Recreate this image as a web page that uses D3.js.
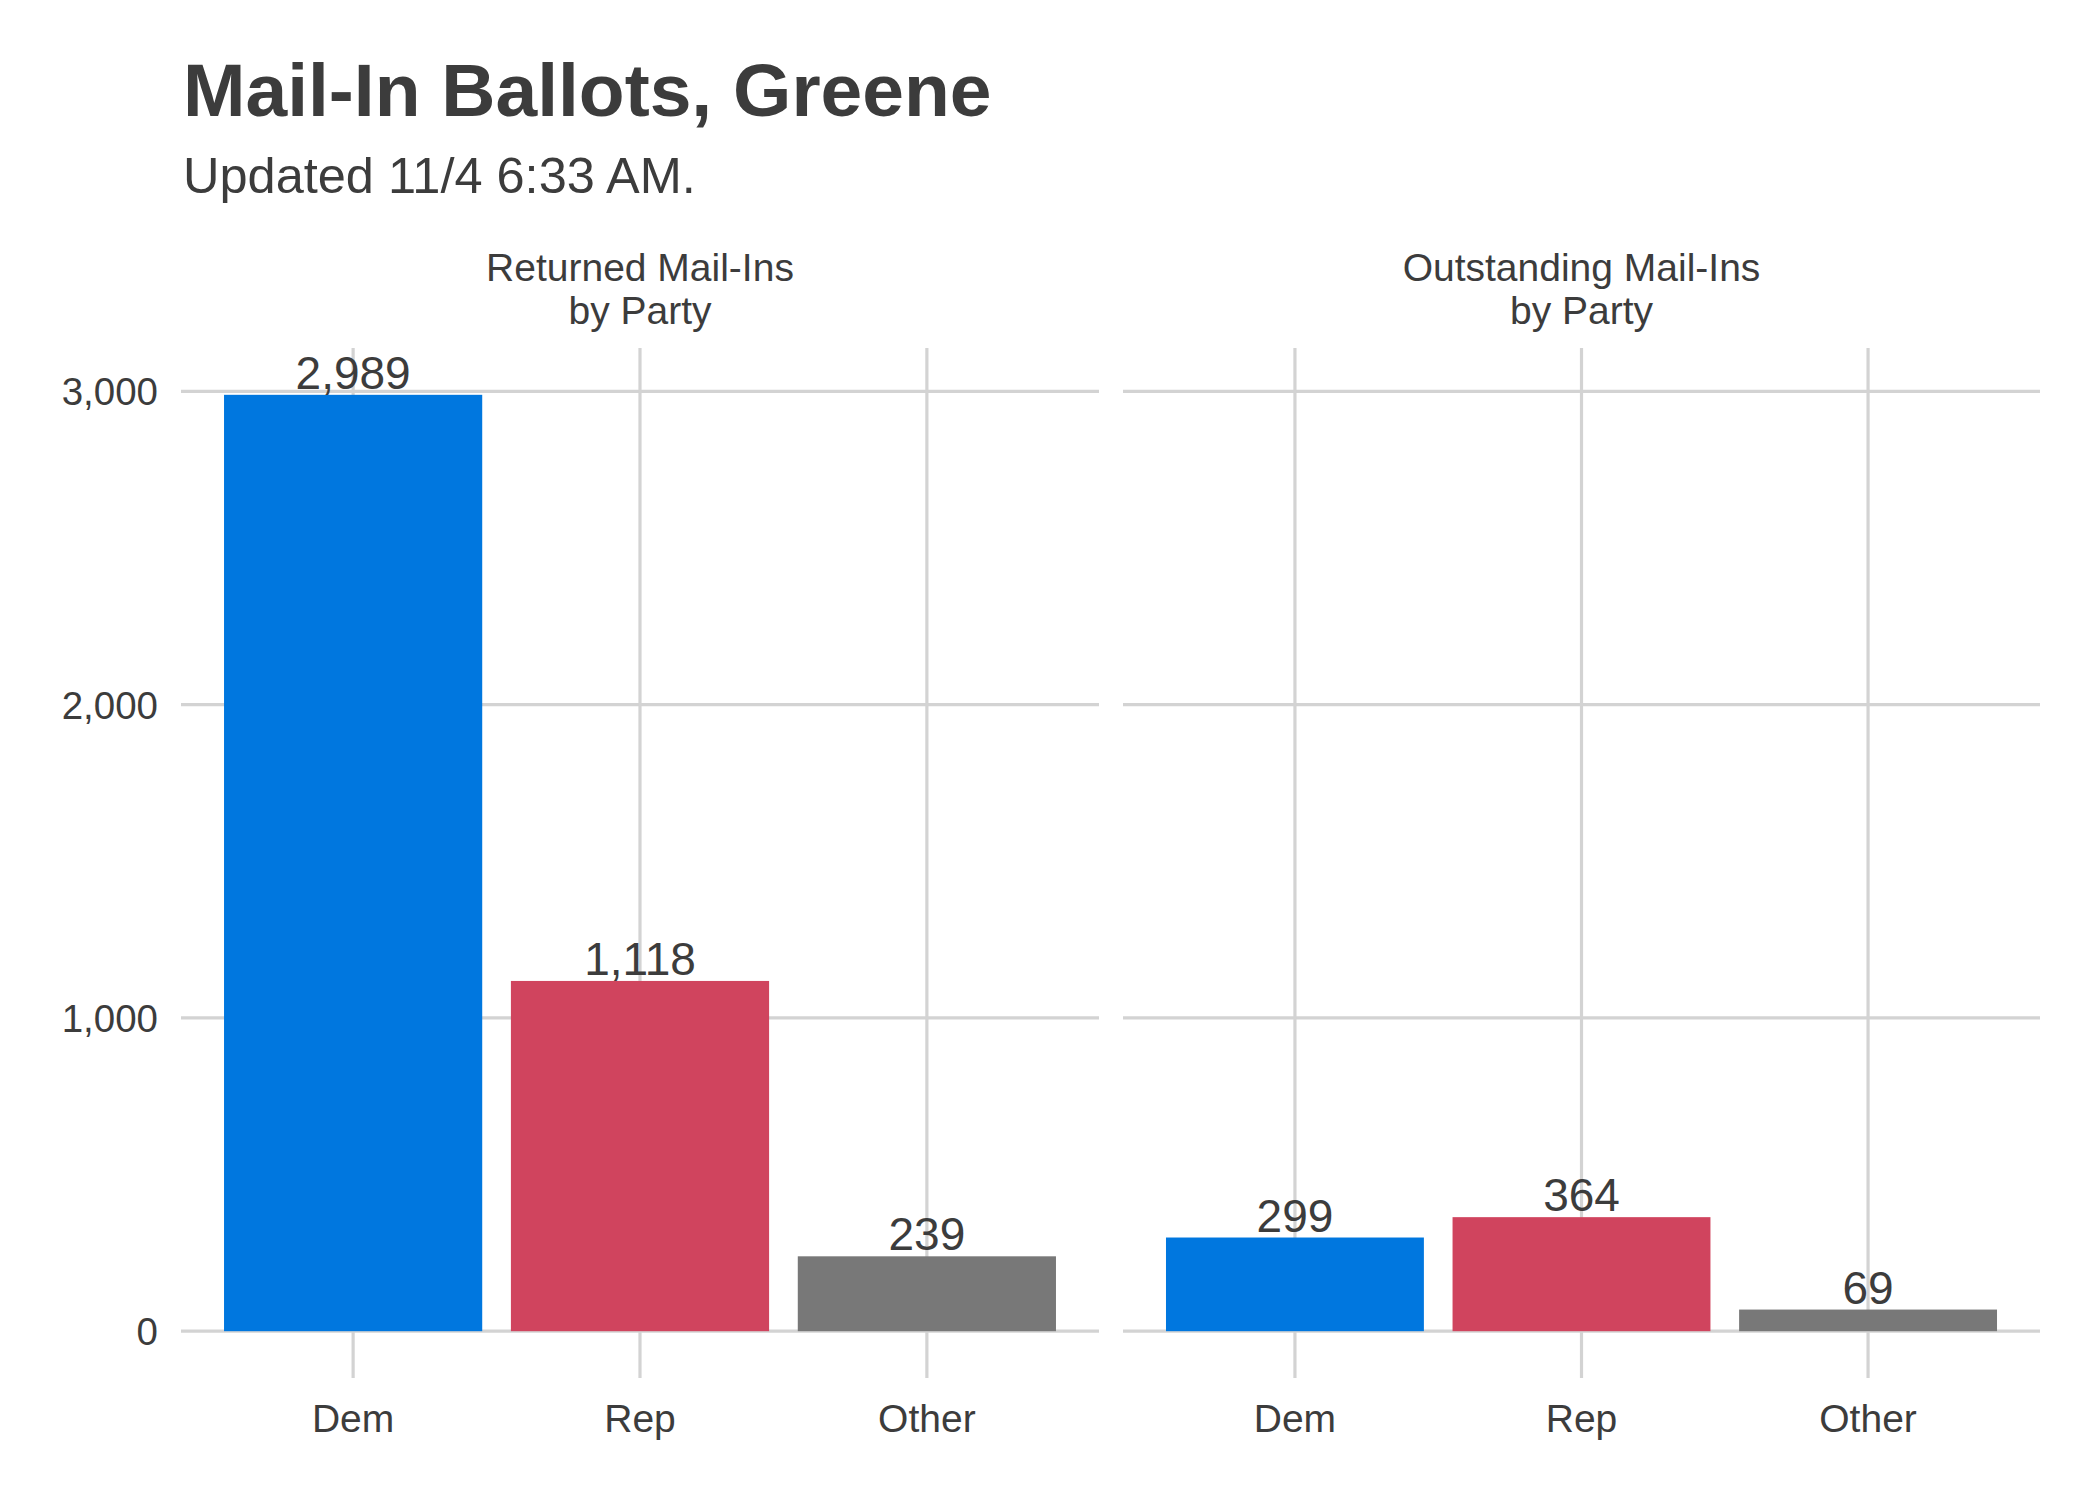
<!DOCTYPE html>
<html><head><meta charset="utf-8">
<script src="https://cdn.jsdelivr.net/npm/d3@7"></script>
<style>html,body{margin:0;padding:0;background:#fff;} svg{display:block;}</style>
</head><body>
<script>
const categories = ["Dem", "Rep", "Other"];
const panels = ["Returned Mail-Ins\nby Party", "Outstanding Mail-Ins\nby Party"];
const returnedValues = [2989, 1118, 239];
const outstandingValues = [299, 364, 69];
const yTicks = [0, 1000, 2000, 3000];
const barColors = ["#0077DF", "#D0445E", "#787878"];
const titleText = "Mail-In Ballots, Greene";
const subtitleText = "Updated 11/4 6:33 AM.";

(function () {
const W = 2100, H = 1500;
const font = "'Liberation Sans', Arial, sans-serif";
const textCol = "#3C3C3C";
const gridCol = "#D3D3D3";

const svg = d3.select("body").append("svg").attr("width", W).attr("height", H);
svg.append("rect").attr("width", W).attr("height", H).attr("fill", "#fff");

svg.append("text").attr("x", 183).attr("y", 116).text(titleText)
  .attr("font-family", font).attr("font-weight", "bold").attr("font-size", 75).attr("fill", textCol);
svg.append("text").attr("x", 183).attr("y", 193).text(subtitleText)
  .attr("font-family", font).attr("font-size", 50.5).attr("fill", textCol);

const allVals = returnedValues.concat(outstandingValues);
const maxV = d3.max(allVals);
const pad = 0.05 * maxV;
const yTop = 348, yBottom = 1378;
const y = d3.scaleLinear().domain([-pad, maxV + pad]).range([yBottom, yTop]);

const panelX = [[181, 1099], [1123, 2040]];
const data = [returnedValues, outstandingValues];

panels.forEach((p, i) => {
  const [x0, x1] = panelX[i];
  const unit = (x1 - x0) / 3.2;
  const x = d3.scalePoint().domain(categories).range([x0 + 0.6 * unit, x1 - 0.6 * unit]);
  const g = svg.append("g");

  g.selectAll("line.hg").data(yTicks).enter().append("line")
    .attr("x1", x0).attr("x2", x1).attr("y1", d => y(d)).attr("y2", d => y(d))
    .attr("stroke", gridCol).attr("stroke-width", 3.2);
  g.selectAll("line.vg").data(categories).enter().append("line")
    .attr("x1", d => x(d)).attr("x2", d => x(d)).attr("y1", yTop).attr("y2", yBottom)
    .attr("stroke", gridCol).attr("stroke-width", 3.2);

  const bw = unit * 0.9;
  const vals = data[i];
  g.selectAll("rect.bar").data(categories).enter().append("rect")
    .attr("x", d => x(d) - bw / 2).attr("width", bw)
    .attr("y", (d, j) => y(vals[j])).attr("height", (d, j) => y(0) - y(vals[j]))
    .attr("fill", (d, j) => barColors[j]);

  g.selectAll("text.val").data(categories).enter().append("text")
    .attr("x", d => x(d)).attr("y", (d, j) => y(vals[j]) - 6)
    .attr("text-anchor", "middle").attr("font-family", font).attr("font-size", 46).attr("fill", textCol)
    .text((d, j) => d3.format(",")(vals[j]));

  g.selectAll("text.xl").data(categories).enter().append("text")
    .attr("x", d => x(d)).attr("y", 1432)
    .attr("text-anchor", "middle").attr("font-family", font).attr("font-size", 39).attr("fill", textCol)
    .text(d => d);

  const lines = p.split("\n");
  const st = g.append("text").attr("text-anchor", "middle").attr("font-family", font)
    .attr("font-size", 39).attr("fill", textCol);
  lines.forEach((l, k) => {
    st.append("tspan").attr("x", (x0 + x1) / 2).attr("y", 281 + k * 43).text(l);
  });

  if (i === 0) {
    g.selectAll("text.yl").data(yTicks).enter().append("text")
      .attr("x", 158).attr("y", d => y(d)).attr("dy", "0.36em")
      .attr("text-anchor", "end").attr("font-family", font).attr("font-size", 38.5).attr("fill", textCol)
      .text(d => d3.format(",")(d));
  }
});
})();
</script>
</body></html>
